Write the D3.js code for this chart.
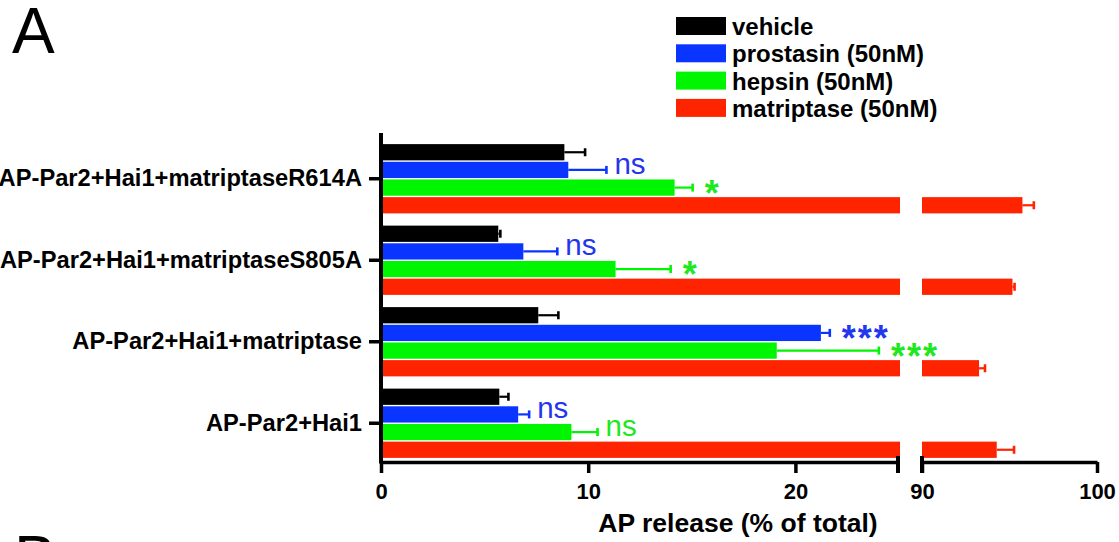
<!DOCTYPE html>
<html>
<head>
<meta charset="utf-8">
<script src="https://cdn.jsdelivr.net/npm/d3@7"></script>
<style>
  html, body { margin: 0; padding: 0; background: #fff; }
  svg { display: block; font-family: "Liberation Sans", Arial, Helvetica, sans-serif; }
</style>
</head>
<body>
<svg id="chart" width="1119" height="542"></svg>
<script>
// Groups, top to bottom
const categories = [
  "AP-Par2+Hai1+matriptaseR614A",
  "AP-Par2+Hai1+matriptaseS805A",
  "AP-Par2+Hai1+matriptase",
  "AP-Par2+Hai1"
];
const seriesNames = ["vehicle", "prostasin (50nM)", "hepsin (50nM)", "matriptase (50nM)"];
const seriesColors = ["#000000", "#0a34ff", "#00f500", "#ff2400"];
const labelColors = ["#000000", "#2435ee", "#1ee81e", "#ff2400"];

// AP release (% of total), mean and SEM per group
const vehicle        = [8.85, 5.66, 7.59, 5.71];
const vehicleSem     = [1.00, 0.10, 0.97, 0.44];
const prostasin      = [9.04, 6.87, 21.23, 6.62];
const prostasinSem   = [1.84, 1.64, 0.43, 0.53];
const hepsin         = [14.17, 11.32, 19.10, 9.19];
const hepsinSem      = [0.87, 2.66, 4.93, 1.26];
const matriptase     = [95.74, 95.17, 93.26, 94.27];
const matriptaseSem  = [0.65, 0.12, 0.34, 0.99];

// Significance versus vehicle
const prostasinSig = ["ns", "ns", "***", "ns"];
const hepsinSig    = ["*", "*", "***", "ns"];

// Broken x axis: two segments
const lowDomain = [0, 25];
const highDomain = [90, 100];
const lowTicks = [0, 10, 20];
const highTicks = [90, 100];

const seriesValues = [vehicle, prostasin, hepsin, matriptase];
const seriesSems = [vehicleSem, prostasinSem, hepsinSem, matriptaseSem];
const seriesSig = [null, prostasinSig, hepsinSig, null];

const svg = d3.select("#chart");

const xLow = d3.scaleLinear().domain(lowDomain).range([381, 899]);
const xHigh = d3.scaleLinear().domain(highDomain).range([922, 1097]);
const axisY = 462;

const y = d3.scaleBand().domain(categories).range([138, 464])
  .paddingInner(0.15).paddingOuter(0.075);
const ySub = d3.scaleBand().domain(seriesNames).range([0, y.bandwidth()]).paddingInner(0.08);

function xPos(v) {
  return v <= lowDomain[1] ? xLow(v) : xHigh(v);
}

// Bars
const plot = svg.append("g");
seriesNames.forEach((name, si) => {
  categories.forEach((cat, ci) => {
    const v = seriesValues[si][ci];
    const sem = seriesSems[si][ci];
    const y0 = y(cat) + ySub(name);
    const h = ySub.bandwidth();
    const color = seriesColors[si];
    if (v <= lowDomain[1]) {
      plot.append("rect").attr("x", xLow(0)).attr("y", y0)
        .attr("width", xLow(v) - xLow(0)).attr("height", h).attr("fill", color);
    } else {
      plot.append("rect").attr("x", xLow(0)).attr("y", y0)
        .attr("width", xLow(lowDomain[1]) + 1 - xLow(0)).attr("height", h).attr("fill", color);
      plot.append("rect").attr("x", xHigh(highDomain[0])).attr("y", y0)
        .attr("width", xHigh(v) - xHigh(highDomain[0])).attr("height", h).attr("fill", color);
    }
    // one-sided error bar
    const cy = y0 + h / 2;
    const xe = xPos(v + sem);
    plot.append("line").attr("x1", xPos(v)).attr("x2", xe).attr("y1", cy).attr("y2", cy)
      .attr("stroke", color).attr("stroke-width", 2.2);
    plot.append("line").attr("x1", xe).attr("x2", xe).attr("y1", cy - 4).attr("y2", cy + 4)
      .attr("stroke", color).attr("stroke-width", 2.6);
    // significance label
    const sig = seriesSig[si] ? seriesSig[si][ci] : null;
    if (sig) {
      const isStar = sig.indexOf("*") >= 0;
      const t = plot.append("text")
        .attr("x", xe + (isStar ? 12 : 8))
        .attr("fill", labelColors[si])
        .text(sig);
      if (isStar) {
        t.attr("y", cy + 18).attr("font-size", 36).attr("font-weight", "bold")
          .attr("letter-spacing", 2);
      } else {
        t.attr("y", cy + 4).attr("font-size", 29.5);
      }
    }
  });
});

// Y axis
const yAxis = svg.append("g").attr("transform", `translate(${xLow(0)},0)`)
  .call(d3.axisLeft(y).tickSize(12).tickPadding(7).tickSizeOuter(0));
yAxis.select(".domain").remove();
yAxis.selectAll(".tick line").attr("stroke", "#000").attr("stroke-width", 3.5);
yAxis.selectAll(".tick text").attr("font-size", 23.7).attr("font-weight", "bold")
  .attr("fill", "#000").attr("font-family", "Liberation Sans, Arial, sans-serif");
svg.append("line").attr("x1", xLow(0)).attr("x2", xLow(0)).attr("y1", 133).attr("y2", axisY + 1.5)
  .attr("stroke", "#000").attr("stroke-width", 4);

// X axis segments
function drawSegment(scale, ticks) {
  const g = svg.append("g").attr("transform", `translate(0,${axisY})`)
    .call(d3.axisBottom(scale).tickValues(ticks).tickFormat(d3.format("d"))
      .tickSize(11).tickPadding(10).tickSizeOuter(0));
  g.select(".domain").attr("stroke", "#000").attr("stroke-width", 3.5);
  g.selectAll(".tick line").attr("stroke", "#000").attr("stroke-width", 3.5);
  g.selectAll(".tick text").attr("font-size", 22).attr("font-weight", "bold")
    .attr("fill", "#000").attr("font-family", "Liberation Sans, Arial, sans-serif");
  return g;
}
drawSegment(xLow, lowTicks);
drawSegment(xHigh, highTicks);
// break markers at the inner ends of the two segments
[xLow(lowDomain[1]) - 1, xHigh(highDomain[0])].forEach(px => {
  svg.append("line").attr("x1", px).attr("x2", px).attr("y1", axisY - 6).attr("y2", axisY + 11)
    .attr("stroke", "#000").attr("stroke-width", 4);
});

// X axis title
svg.append("text").attr("x", 738).attr("y", 532).attr("text-anchor", "middle")
  .attr("font-size", 26.5).attr("font-weight", "bold").attr("fill", "#000")
  .text("AP release (% of total)");

// Legend
const legend = svg.append("g").attr("transform", "translate(676,17)");
seriesNames.forEach((name, i) => {
  const row = legend.append("g").attr("transform", `translate(0,${i * 27.3})`);
  row.append("rect").attr("width", 50).attr("height", 18).attr("fill", seriesColors[i]);
  row.append("text").attr("x", 56).attr("y", 18).attr("font-size", 24)
    .attr("font-weight", "bold").attr("fill", "#000").text(name);
});

// Panel letters
svg.append("text").attr("x", 12).attr("y", 53).attr("font-size", 64).attr("fill", "#000").text("A");
svg.append("text").attr("x", 14).attr("y", 581).attr("font-size", 64).attr("fill", "#000").text("B");
</script>
</body>
</html>
